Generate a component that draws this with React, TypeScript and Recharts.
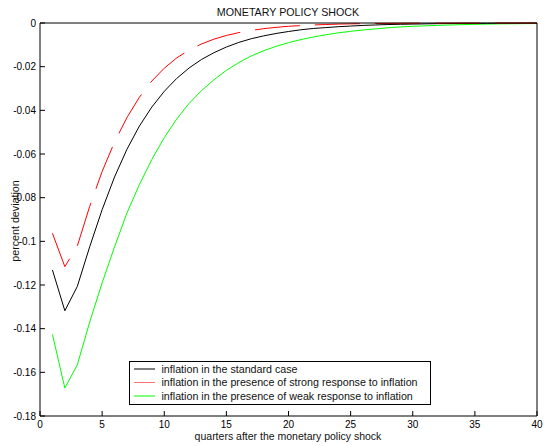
import React from 'react';
import { LineChart, Line, XAxis, YAxis } from 'recharts';

const quarters = [1,2,3,4,5,6,7,8,9,10,11,12,13,14,15,16,17,18,19,20,21,22,23,24,25,26,27,28,29,30,31,32,33,34,35,36,37,38,39,40];

const standardCase = [
  -0.1131, -0.1318, -0.1207, -0.1025, -0.0855, -0.0705, -0.0578, -0.0472, -0.0385, -0.0313,
  -0.0254, -0.0206, -0.0167, -0.0136, -0.0110, -0.0089, -0.0072, -0.0059, -0.0048, -0.0039,
  -0.0031, -0.0025, -0.0021, -0.0017, -0.0014, -0.0011, -0.0009, -0.0007, -0.0006, -0.0005,
  -0.0004, -0.0003, -0.00025, -0.0002, -0.00016, -0.00013, -0.0001, -0.00008, -0.00007, -0.00005,
];

const strongResponse = [
  -0.0963, -0.1116, -0.1022, -0.0840, -0.0680, -0.0545, -0.0433, -0.0340, -0.0266, -0.0207,
  -0.0160, -0.0124, -0.0096, -0.0074, -0.0057, -0.0044, -0.0034, -0.0026, -0.0020, -0.0015,
  -0.0012, -0.0009, -0.0007, -0.0005, -0.0004, -0.0003, -0.00025, -0.0002, -0.00015, -0.00012,
  -0.0001, -0.00008, -0.00006, -0.00005, -0.00004, -0.00003, -0.00002, -0.00002, -0.00001, -0.00001,
];

const weakResponse = [
  -0.1426, -0.1672, -0.1566, -0.1370, -0.1190, -0.1025, -0.0870, -0.0740, -0.0625, -0.0525,
  -0.0440, -0.0368, -0.0310, -0.0260, -0.0217, -0.0181, -0.0151, -0.0127, -0.0107, -0.0090,
  -0.0076, -0.0064, -0.0054, -0.0045, -0.0038, -0.0032, -0.0027, -0.0022, -0.0018, -0.0015,
  -0.0013, -0.0011, -0.0009, -0.00075, -0.0006, -0.0005, -0.0004, -0.00035, -0.0003, -0.00025,
];

const xTicks = [0, 5, 10, 15, 20, 25, 30, 35, 40];
const yTicks = [-0.18, -0.16, -0.14, -0.12, -0.1, -0.08, -0.06, -0.04, -0.02, 0];

const title = 'MONETARY POLICY SHOCK';
const xLabel = 'quarters after the monetary policy shock';
const yLabel = 'percent deviation';
const legendLabels = [
  'inflation in the standard case',
  'inflation in the presence of strong response to inflation',
  'inflation in the presence of weak response to inflation',
];
const legendColors = ['#000000', '#ff7070', '#00ff00'];

const data = quarters.map((t, i) => ({
  t,
  standard: standardCase[i],
  strong: strongResponse[i],
  weak: weakResponse[i],
}));

const FONT = '"Liberation Sans", Arial, Helvetica, sans-serif';

export default function App() {
  const W = 544;
  const H = 446;
  return (
    <div style={{ position: 'absolute', left: 0, top: 0, width: W, height: H, fontFamily: FONT, background: '#fff' }}>
      <LineChart width={W} height={H} data={data} margin={{ top: 22, right: 6, bottom: 0, left: 0 }}>
        <XAxis
          xAxisId="bottom"
          dataKey="t"
          type="number"
          domain={[0, 40]}
          ticks={xTicks}
          orientation="bottom"
          height={30}
          tickSize={-5}
          tickMargin={10}
          axisLine={{ stroke: '#000', strokeWidth: 1 }}
          tickLine={{ stroke: '#000' }}
          tick={{ fill: '#000', fontSize: 10, fontFamily: FONT }}
          interval={0}
        />
        <XAxis
          xAxisId="top"
          dataKey="t"
          type="number"
          domain={[0, 40]}
          ticks={xTicks}
          orientation="top"
          height={1}
          tickSize={-5}
          axisLine={{ stroke: '#000', strokeWidth: 1 }}
          tickLine={{ stroke: '#000' }}
          tick={false}
          interval={0}
        />
        <YAxis
          yAxisId="left"
          type="number"
          domain={[-0.18, 0]}
          ticks={yTicks}
          orientation="left"
          width={40}
          tickSize={-5}
          tickMargin={9}
          axisLine={{ stroke: '#000', strokeWidth: 1 }}
          tickLine={{ stroke: '#000' }}
          tick={{ fill: '#000', fontSize: 10, fontFamily: FONT }}
          tickFormatter={(v: number) => String(v)}
          interval={0}
        />
        <YAxis
          yAxisId="right"
          type="number"
          domain={[-0.18, 0]}
          ticks={yTicks}
          orientation="right"
          width={1}
          tickSize={-5}
          axisLine={{ stroke: '#000', strokeWidth: 1 }}
          tickLine={{ stroke: '#000' }}
          tick={false}
          interval={0}
        />
        <Line
          xAxisId="bottom"
          yAxisId="left"
          dataKey="weak"
          stroke="#00ff00"
          strokeWidth={1}
          dot={false}
          activeDot={false}
          isAnimationActive={false}
          type="linear"
        />
        <Line
          xAxisId="bottom"
          yAxisId="left"
          dataKey="standard"
          stroke="#000000"
          strokeWidth={1}
          dot={false}
          activeDot={false}
          isAnimationActive={false}
          type="linear"
        />
        <Line
          xAxisId="bottom"
          yAxisId="left"
          dataKey="strong"
          stroke="#ff0000"
          strokeWidth={1}
          strokeDasharray="45 15"
          dot={false}
          activeDot={false}
          isAnimationActive={false}
          type="linear"
        />
      </LineChart>
      <svg
        width={W}
        height={H}
        style={{ position: 'absolute', left: 0, top: 0, pointerEvents: 'none' }}
      >
        <text x={288} y={15.5} textAnchor="middle" fontSize={10.7} fill="#111" fontFamily={FONT}>
          {title}
        </text>
        <text x={288} y={439.5} textAnchor="middle" fontSize={10.5} fill="#111" fontFamily={FONT}>
          {xLabel}
        </text>
        <text
          x={19}
          y={221}
          textAnchor="middle"
          fontSize={10.7}
          fill="#111"
          fontFamily={FONT}
          transform="rotate(-90 19 221)"
        >
          {yLabel}
        </text>
        <rect x={129.5} y={361.5} width={301} height={43} fill="#fff" stroke="#000" strokeWidth={1} />
        {legendLabels.map((lbl, i) => {
          const yy = 369 + i * 13.5;
          return (
            <g key={lbl}>
              <line x1={134} x2={155} y1={yy} y2={yy} stroke={legendColors[i]} strokeWidth={1} />
              <text x={161.5} y={yy + 3.7} fontSize={10.7} fill="#111" fontFamily={FONT}>
                {lbl}
              </text>
            </g>
          );
        })}
      </svg>
    </div>
  );
}
